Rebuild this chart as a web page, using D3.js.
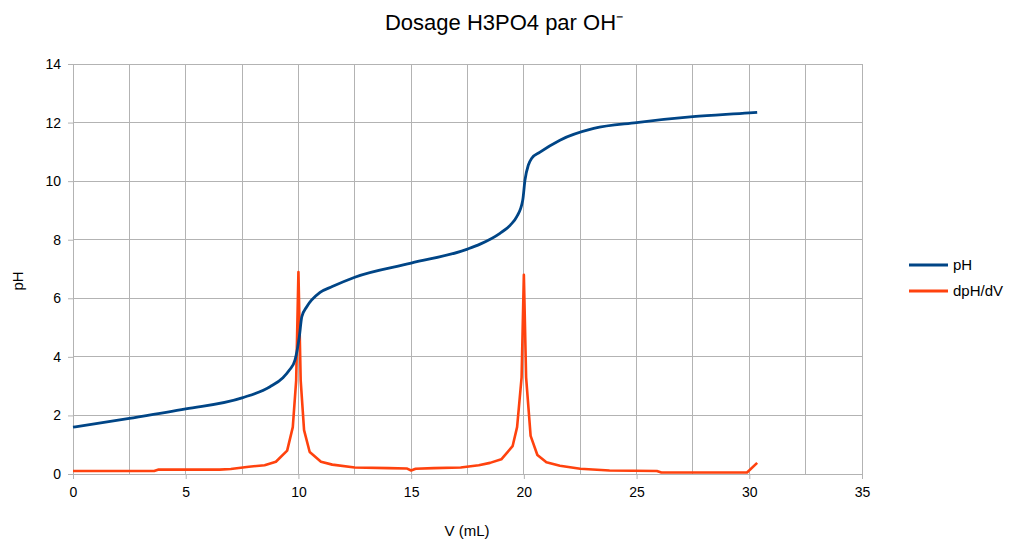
<!DOCTYPE html>
<html><head><meta charset="utf-8">
<script src="https://cdn.jsdelivr.net/npm/d3@7"></script>
<style>body{margin:0;background:#fff;} text{font-family:"Liberation Sans",Arial,sans-serif;}</style>
</head><body>
<svg id="c" width="1011" height="542"></svg>
<script>
const vPH = [0,2.5,5,7.5,8.74,9.3,9.6,9.85,10.04,10.15,10.37,10.96,11.5,12.5,15,17.5,18.06,18.94,19.4,19.68,19.95,20.05,20.2,20.35,20.7,21.6,23.1,25,27.5,30,30.35];
const pH  = [1.6,1.9,2.22,2.6,2.98,3.28,3.55,3.9,4.69,5.37,5.71,6.2,6.4,6.72,7.2,7.68,7.85,8.22,8.5,8.78,9.35,10.04,10.55,10.78,10.98,11.4,11.8,12.0,12.2,12.33,12.35];
const vD  = [0,3.6,3.8,6.5,7,7.8,8.5,9,9.5,9.75,9.9,10,10.1,10.25,10.5,11,11.5,12.5,14,14.8,15,15.2,16,17.2,18,18.5,19,19.5,19.7,19.9,20,20.1,20.3,20.6,21,21.6,22.5,23.8,25.9,26.1,29.9,30.35];
const dpH = [0.1,0.1,0.15,0.15,0.17,0.25,0.3,0.42,0.8,1.6,3.2,6.9,3.2,1.5,0.75,0.42,0.32,0.22,0.2,0.19,0.12,0.18,0.2,0.22,0.3,0.38,0.5,0.95,1.6,3.3,6.8,3.3,1.3,0.65,0.4,0.28,0.18,0.12,0.1,0.05,0.05,0.38];
const xTicks = [0,5,10,15,20,25,30,35];
const xGrid = d3.range(0,35.01,2.5);
const yTicks = [0,2,4,6,8,10,12,14];
const seriesNames = ["pH","dpH/dV"];
const colors = ["#004586","#ff420e"];

const svg = d3.select("#c");
const x = d3.scaleLinear().domain([0,35]).range([73,862]);
const y = d3.scaleLinear().domain([0,14]).range([474,64]);

// grid
svg.append("g").selectAll("line").data(xGrid).join("line")
  .attr("x1",d=>x(d)).attr("x2",d=>x(d)).attr("y1",y(0)).attr("y2",y(14))
  .attr("stroke","#b3b3b3").attr("stroke-width",1).attr("shape-rendering","crispEdges");
svg.append("g").selectAll("line").data(yTicks).join("line")
  .attr("x1",x(0)).attr("x2",x(35)).attr("y1",d=>y(d)).attr("y2",d=>y(d))
  .attr("stroke","#b3b3b3").attr("stroke-width",1).attr("shape-rendering","crispEdges");

// axes
const xa = svg.append("g").attr("transform",`translate(0,${y(0)})`)
  .call(d3.axisBottom(x).tickValues(xTicks).tickSize(5).tickPadding(8));
const ya = svg.append("g").attr("transform",`translate(${x(0)},0)`)
  .call(d3.axisLeft(y).tickValues(yTicks).tickSize(5).tickPadding(7));
[xa,ya].forEach(a=>{
  a.select(".domain").attr("stroke","#b3b3b3");
  a.selectAll(".tick line").attr("stroke","#b3b3b3");
  a.selectAll("text").attr("font-size",14).attr("fill","#000").style("font-family","'Liberation Sans',Arial,sans-serif");
});

// lines
const l1 = d3.line().x((d,i)=>x(vPH[i])).y(d=>y(d)).curve(d3.curveMonotoneX);
const l2 = d3.line().x((d,i)=>x(vD[i])).y(d=>y(d));
svg.append("path").datum(dpH).attr("d",l2).attr("fill","none").attr("stroke",colors[1]).attr("stroke-width",2.6).attr("stroke-linejoin","round");
svg.append("path").datum(pH).attr("d",l1).attr("fill","none").attr("stroke",colors[0]).attr("stroke-width",2.8).attr("stroke-linejoin","round");

// titles
svg.append("text").attr("x",504).attr("y",30).attr("text-anchor","middle").attr("font-size",22).text("Dosage H3PO4 par OH⁻");
svg.append("text").attr("x",467).attr("y",536).attr("text-anchor","middle").attr("font-size",15).text("V (mL)");
svg.append("text").attr("transform","translate(23,281) rotate(-90)").attr("text-anchor","middle").attr("font-size",15).text("pH");

// legend
const lg = svg.append("g").selectAll("g").data(seriesNames).join("g")
  .attr("transform",(d,i)=>`translate(909,${265+i*26})`);
lg.append("line").attr("x1",0).attr("x2",39).attr("y1",0).attr("y2",0).attr("stroke",(d,i)=>colors[i]).attr("stroke-width",2.8);
lg.append("text").attr("x",44).attr("y",5).attr("font-size",15).text(d=>d);
</script>
</body></html>
